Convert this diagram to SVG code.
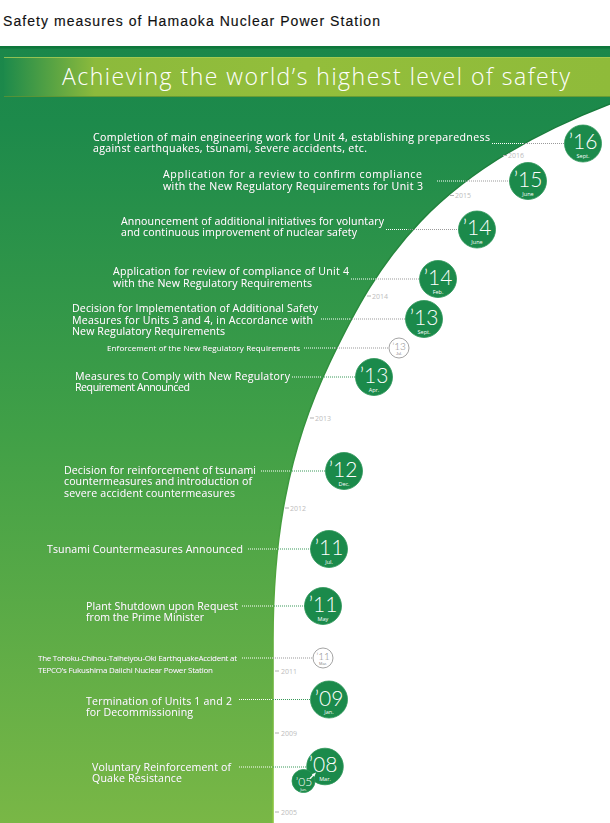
<svg xmlns="http://www.w3.org/2000/svg" width="610" height="823" viewBox="0 0 610 823">
<defs>
<linearGradient id="body" gradientUnits="userSpaceOnUse" x1="0" y1="46" x2="0" y2="823">
<stop offset="0" stop-color="#1b874a"/>
<stop offset="0.1" stop-color="#1d8a4b"/>
<stop offset="0.5" stop-color="#41a047"/>
<stop offset="1" stop-color="#79b746"/>
</linearGradient>
<linearGradient id="edge" gradientUnits="userSpaceOnUse" x1="0" y1="104" x2="0" y2="823">
<stop offset="0" stop-color="#167a3c"/>
<stop offset="0.55" stop-color="#3d9a3e"/>
<stop offset="1" stop-color="#8cc63f"/>
</linearGradient>
<linearGradient id="banner" gradientUnits="userSpaceOnUse" x1="4" y1="0" x2="610" y2="0">
<stop offset="0" stop-color="#1d8a4b"/>
<stop offset="0.15" stop-color="#8cba3c"/>
<stop offset="0.5" stop-color="#93be3b"/>
<stop offset="1" stop-color="#8fbb3a"/>
</linearGradient>
<filter id="sh" x="-5%" y="-30%" width="110%" height="160%">
<feDropShadow dx="0" dy="0" stdDeviation="0.7" flood-color="#0b4a22" flood-opacity="0.7"/>
</filter>
</defs>
<style>
.t{fill:#fff;font-family:"Open Sans","Noto Sans","Liberation Sans",sans-serif;font-size:10.6px;filter:url(#sh)}
.s{fill:#fff;font-family:"Open Sans","Noto Sans","Liberation Sans",sans-serif;font-size:8px;filter:url(#sh)}
.c{fill:#1b8a4b;stroke:#2c9658;stroke-width:0.8}
.o{fill:#fff;stroke:#9a9a9a;stroke-width:0.9}
.d{fill:#fff;font-family:Lato,"Open Sans",sans-serif;font-weight:300;font-size:21px;text-anchor:middle}
.m{fill:#fff;font-family:"Open Sans","Liberation Sans",sans-serif;font-size:5.5px;text-anchor:middle}
.od{fill:#8a8a8a;font-family:Lato,"Open Sans",sans-serif;font-weight:300;font-size:10px;text-anchor:middle}
.om{fill:#8a8a8a;font-family:"Liberation Sans",Arial,sans-serif;font-size:4px;text-anchor:middle}
.y{fill:#bdbdbd;font-family:"Open Sans","Liberation Sans",sans-serif;font-size:7px}
.tk{stroke:#b0b0b0;stroke-width:1}
.w{stroke:#fff;stroke-width:1.2;stroke-dasharray:1 1;fill:none}
.g{stroke:#9a9a9a;stroke-width:1.2;stroke-dasharray:1 1;fill:none}
.gr{stroke:#3a9a5a;stroke-width:1.2;stroke-dasharray:1 1;fill:none}
</style>
<rect width="610" height="823" fill="#fff"/>
<text x="3" y="26" font-family="Liberation Sans,Arial,sans-serif" font-size="14" fill="#111" stroke="#111" stroke-width="0.15" textLength="377">Safety measures of Hamaoka Nuclear Power Station</text>
<g id="background">
<path d="M0,46 H610 V104 C430,173 378,262 330,362 C286.8,452 273,540 273,640 V823 H0 Z" fill="url(#body)"/>
<path d="M610,104 C430,173 378,262 330,362 C286.8,452 273,540 273,640 V823" fill="none" stroke="url(#edge)" stroke-width="1.6"/>
<rect x="0" y="46" width="610" height="2.5" fill="#0e773b"/>
<rect x="4" y="57" width="606" height="40" fill="url(#banner)"/>
<rect x="4" y="57" width="606" height="1" fill="#a9cd55" opacity="0.8"/>
<rect x="4" y="96" width="606" height="1" fill="#5f9333" opacity="0.8"/>
<text x="62" y="85" font-family="Open Sans,Lato,sans-serif" font-weight="300" font-size="23" fill="#fff" textLength="508">Achieving the world’s highest level of safety</text>
</g>
<g id="years">
<line class="tk" x1="503" y1="155.5" x2="507" y2="155.5"/><text class="y" x="508" y="158">2016</text>
<line class="tk" x1="450" y1="195.5" x2="454" y2="195.5"/><text class="y" x="455" y="198">2015</text>
<line class="tk" x1="367" y1="296" x2="371" y2="296"/><text class="y" x="372" y="298.5">2014</text>
<line class="tk" x1="310" y1="418" x2="314" y2="418"/><text class="y" x="315" y="420.5">2013</text>
<line class="tk" x1="285" y1="508" x2="289" y2="508"/><text class="y" x="290" y="510.5">2012</text>
<line class="tk" x1="275" y1="671" x2="279" y2="671"/><text class="y" x="281" y="673.5">2011</text>
<line class="tk" x1="275" y1="733" x2="279" y2="733"/><text class="y" x="281" y="735.5">2009</text>
<line class="tk" x1="275" y1="812" x2="279" y2="812"/><text class="y" x="281" y="814.5">2005</text>
</g>
<g id="connectors">
<line class="w" x1="492" y1="143.5" x2="523" y2="143.5"/><line class="g" x1="523" y1="143.5" x2="565" y2="143.5"/>
<line class="w" x1="437" y1="181" x2="465" y2="181"/><line class="g" x1="465" y1="181" x2="510" y2="181"/>
<line class="w" x1="386" y1="229.5" x2="408" y2="229.5"/><line class="g" x1="408" y1="229.5" x2="459" y2="229.5"/>
<line class="w" x1="351" y1="279" x2="376" y2="279"/><line class="g" x1="376" y1="279" x2="420" y2="279"/>
<line class="w" x1="321" y1="319" x2="350" y2="319"/><line class="g" x1="350" y1="319" x2="406" y2="319"/>
<line class="w" x1="304" y1="348" x2="335" y2="348"/><line class="g" x1="335" y1="348" x2="389" y2="348"/>
<line class="w" x1="292" y1="377" x2="322" y2="377"/><line class="gr" x1="322" y1="377" x2="356" y2="377"/>
<line class="w" x1="261" y1="471" x2="290" y2="471"/><line class="gr" x1="290" y1="471" x2="326" y2="471"/>
<line class="w" x1="248" y1="549" x2="278" y2="549"/><line class="gr" x1="278" y1="549" x2="311" y2="549"/>
<line class="w" x1="242" y1="606" x2="274" y2="606"/><line class="gr" x1="274" y1="606" x2="305" y2="606"/>
<line class="w" x1="242" y1="658" x2="273" y2="658"/><line class="g" x1="273" y1="658" x2="313" y2="658"/>
<line class="w" x1="239" y1="699.5" x2="273" y2="699.5"/><line class="gr" x1="273" y1="699.5" x2="311" y2="699.5"/>
<line class="w" x1="239" y1="767" x2="273" y2="767"/><line class="gr" x1="273" y1="767" x2="307" y2="767"/>
</g>
<g id="e2016">
<text class="t" x="93" y="140.5" textLength="397">Completion of main engineering work for Unit 4, establishing preparedness</text>
<text class="t" x="93" y="151.5" textLength="274">against earthquakes, tsunami, severe accidents, etc.</text>
<circle class="c" cx="583" cy="143.5" r="18.5"/><text class="d" x="583" y="149">’16</text><text class="m" x="583" y="158">Sept.</text>
</g>
<g id="e2015">
<text class="t" x="163" y="178" textLength="259">Application for a review to confirm compliance</text>
<text class="t" x="163" y="189.5" textLength="260">with the New Regulatory Requirements for Unit 3</text>
<circle class="c" cx="528" cy="181" r="18.5"/><text class="d" x="528" y="186.5">’15</text><text class="m" x="528" y="195.5">June</text>
</g>
<g id="e2014june">
<text class="t" x="121" y="224.5" textLength="263">Announcement of additional initiatives for voluntary</text>
<text class="t" x="121" y="236" textLength="236">and continuous improvement of nuclear safety</text>
<circle class="c" cx="477" cy="229.5" r="18.5"/><text class="d" x="477" y="235">’14</text><text class="m" x="477" y="244">June</text>
</g>
<g id="e2014feb">
<text class="t" x="113" y="275" textLength="236">Application for review of compliance of Unit 4</text>
<text class="t" x="113" y="286.5" textLength="199">with the New Regulatory Requirements</text>
<circle class="c" cx="438" cy="279" r="18.5"/><text class="d" x="438" y="284.5">’14</text><text class="m" x="438" y="293.5">Feb.</text>
</g>
<g id="e2013sept">
<text class="t" x="72" y="312" textLength="246">Decision for Implementation of Additional Safety</text>
<text class="t" x="72" y="323.5" textLength="241">Measures for Units 3 and 4, in Accordance with</text>
<text class="t" x="72" y="335" textLength="153">New Regulatory Requirements</text>
<circle class="c" cx="424" cy="319" r="18.5"/><text class="d" x="424" y="324.5">’13</text><text class="m" x="424" y="333.5">Sept.</text>
</g>
<g id="e2013jul">
<text class="s" x="107" y="350.5" textLength="193">Enforcement of the New Regulatory Requirements</text>
<circle class="o" cx="399" cy="348" r="10"/><text class="od" x="399" y="350">’13</text><text class="om" x="399" y="355">Jul.</text>
</g>
<g id="e2013apr">
<text class="t" x="75" y="379.5" textLength="215">Measures to Comply with New Regulatory</text>
<text class="t" x="75" y="391" textLength="115">Requirement Announced</text>
<circle class="c" cx="374" cy="377" r="18.5"/><text class="d" x="374" y="382.5">’13</text><text class="m" x="374" y="391.5">Apr.</text>
</g>
<g id="e2012">
<text class="t" x="64" y="473.5" textLength="192">Decision for reinforcement of tsunami</text>
<text class="t" x="64" y="485" textLength="188">countermeasures and introduction of</text>
<text class="t" x="64" y="496.5" textLength="171">severe accident countermeasures</text>
<circle class="c" cx="344" cy="471" r="18.5"/><text class="d" x="343" y="477">’12</text><text class="m" x="344" y="485.5">Dec.</text>
</g>
<g id="e2011jul">
<text class="t" x="47" y="553" textLength="196">Tsunami Countermeasures Announced</text>
<circle class="c" cx="329" cy="549" r="18.5"/><text class="d" x="329" y="555">’11</text><text class="m" x="329" y="563.5">Jul.</text>
</g>
<g id="e2011may">
<text class="t" x="86" y="609.5" textLength="152">Plant Shutdown upon Request</text>
<text class="t" x="86" y="621" textLength="118">from the Prime Minister</text>
<circle class="c" cx="323" cy="606" r="18.5"/><text class="d" x="323" y="612">’11</text><text class="m" x="323" y="620.5">May</text>
</g>
<g id="e2011mar">
<text class="s" x="38" y="661" textLength="199">The Tohoku-Chihou-Taiheiyou-Oki EarthquakeAccident at</text>
<text class="s" x="38" y="672.5" textLength="175">TEPCO’s Fukushima Daiichi Nuclear Power Station</text>
<circle class="o" cx="323" cy="658" r="10"/><text class="od" x="323" y="660">’11</text><text class="om" x="323" y="665">Mar.</text>
</g>
<g id="e2009">
<text class="t" x="86" y="704.5" textLength="146">Termination of Units 1 and 2</text>
<text class="t" x="86" y="716" textLength="107">for Decommissioning</text>
<circle class="c" cx="329" cy="699.5" r="18.5"/><text class="d" x="329" y="705.5">’09</text><text class="m" x="329" y="714">Jan.</text>
</g>
<g id="e2008">
<text class="t" x="92" y="770.5" textLength="139">Voluntary Reinforcement of</text>
<text class="t" x="92" y="782" textLength="90">Quake Resistance</text>
<circle class="c" cx="325" cy="766.5" r="18.3"/><text class="d" x="323" y="771.5">’08</text><text class="m" x="325" y="780.5">Mar.</text>
</g>
<g id="e2005">
<circle class="c" cx="303.5" cy="781" r="11.5"/><text class="d" x="304" y="785.5" style="font-size:12px">’05</text><text class="m" x="303.5" y="791" style="font-size:3.8px">Jun.</text>
<line x1="310" y1="778.5" x2="313.5" y2="775" stroke="#fff" stroke-width="1.2"/>
<polygon points="316,772.5 311.8,774.2 314.3,776.7" fill="#fff"/>
</g>
</svg>
